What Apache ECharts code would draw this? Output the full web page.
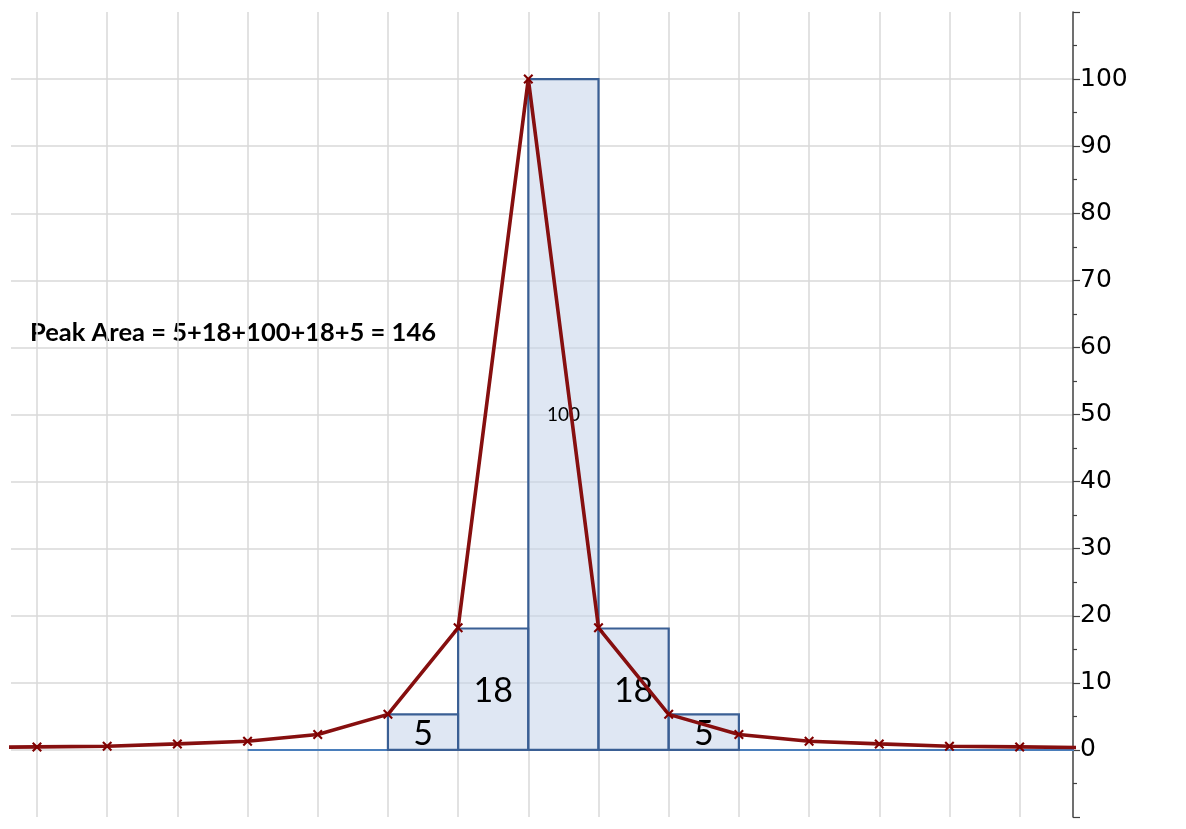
<!DOCTYPE html>
<html>
	<head>
		<meta charset="utf-8">
		<title>Peak Area</title>
		<style type="text/css">
			html, body { margin: 0; padding: 0; background: #fff; }
			#main { width: 1186px; height: 829px; }
		</style>
	</head>
	<body>
		<div id="main"></div>
		<script src="https://cdn.jsdelivr.net/npm/echarts@6/dist/echarts.min.js" type="text/javascript"></script>
		<script type="text/javascript">
			// peak samples (x position, height) - the outer two are clipped by the grid
			var peakX = [-8, -7, -6, -5, -4, -3, -2, -1, 0, 1, 2, 3, 4, 5, 6, 7, 8];
			var peakY = [0.35, 0.45, 0.55, 0.9, 1.3, 2.3, 5.3, 18.2, 100, 18.2, 5.3, 2.3, 1.3, 0.9, 0.55, 0.45, 0.35];

			// rectangles summed for the area, each one unit wide from its start
			var barStart = [-2, -1, 0, 1, 2];
			var barHeight = [5.3, 18.1, 100, 18.1, 5.3];
			var barLabel = ['5', '18', '100', '18', '5'];

			// blue baseline under the summed part
			var baseX = [-4, 8];
			var baseY = [0, 0];

			var gridX = [-7, -6, -5, -4, -3, -2, -1, 0, 1, 2, 3, 4, 5, 6, 7];
			var yTicks = [0, 10, 20, 30, 40, 50, 60, 70, 80, 90, 100];

			var myChart = echarts.init(document.getElementById('main'));

			var crossPath = 'path://M0,1.5L1.5,0L5,3.5L8.5,0L10,1.5L6.5,5L10,8.5L8.5,10L5,6.5L1.5,10L0,8.5L3.5,5Z';

			option = {
				animation: false,
				grid: {
					left: 11,
					right: 113,
					top: 12,
					bottom: 12
				},
				graphic: [{
					type: 'text',
					left: 30,
					top: 320,
					style: {
						text: 'Peak Area = 5+18+100+18+5 = 146',
						fontFamily: 'Lato',
						fontWeight: 'bold',
						fontSize: 25.5,
						fill: '#000'
					}
				}],
				xAxis: {
					type: 'value',
					min: -7.37,
					max: 7.76,
					axisLine: { show: false },
					axisTick: { show: false },
					axisLabel: { show: false },
					splitLine: { show: false }
				},
				yAxis: {
					type: 'value',
					position: 'right',
					min: -10,
					max: 110,
					interval: 10,
					axisLine: {
						show: true,
						onZero: false,
						lineStyle: { color: '#404040', width: 1.5 }
					},
					axisTick: {
						show: true,
						length: 7,
						lineStyle: { color: '#404040', width: 1.2 }
					},
					minorTick: {
						show: true,
						splitNumber: 2,
						length: 4,
						lineStyle: { color: '#404040', width: 1.2 }
					},
					axisLabel: {
						margin: 7,
						color: '#000',
						fontFamily: 'DejaVu Sans',
						fontSize: 25,
						formatter: function (v) {
							return yTicks.indexOf(v) >= 0 ? String(v) : '';
						}
					},
					splitLine: {
						show: true,
						showMinLine: false,
						showMaxLine: false,
						lineStyle: { color: '#d9d9d9', width: 1.5 }
					}
				},
				series: [{
					// vertical grid lines
					type: 'line',
					data: [],
					z: 0,
					markLine: {
						silent: true,
						z: 0,
						symbol: 'none',
						animation: false,
						label: { show: false },
						lineStyle: { color: '#d9d9d9', width: 1.5, type: 'solid' },
						data: gridX.map(function (v) { return { xAxis: v }; })
					}
				}, {
					name: 'base',
					type: 'line',
					data: baseX.map(function (x, i) { return [x, baseY[i]]; }),
					symbol: 'none',
					z: 2,
					lineStyle: { color: '#4a7ebb', width: 2 }
				}, {
					name: 'bars',
					type: 'custom',
					z: 3,
					data: barStart.map(function (x, i) { return [x, barHeight[i], barLabel[i]]; }),
					renderItem: function (params, api) {
						var x0 = api.value(0);
						var h = api.value(1);
						var lab = barLabel[params.dataIndex];
						var p0 = api.coord([x0, 0]);
						var p1 = api.coord([x0 + 1, h]);
						var big = lab !== '100';
						return {
							type: 'group',
							children: [{
								type: 'rect',
								shape: { x: p0[0], y: p1[1], width: p1[0] - p0[0], height: p0[1] - p1[1] },
								style: { fill: 'rgba(196,211,233,0.55)', stroke: '#3a5f94', lineWidth: 2.2 }
							}, {
								type: 'text',
								z2: 10,
								style: {
									text: lab,
									x: (p0[0] + p1[0]) / 2,
									y: (p0[1] + p1[1]) / 2 + (big ? 2 : 0),
									align: 'center',
									verticalAlign: 'middle',
									fontFamily: 'Lato',
									fontSize: big ? 34 : 19,
									fill: '#000'
								}
							}]
						};
					}
				}, {
					name: 'peak',
					type: 'line',
					z: 4,
					data: peakX.map(function (x, i) { return [x, peakY[i]]; }),
					symbol: crossPath,
					symbolSize: 10,
					itemStyle: { color: '#800000' },
					lineStyle: { color: '#860f0f', width: 3.6 }
				}]
			};
			myChart.setOption(option);
		</script>
	</body>
</html>
